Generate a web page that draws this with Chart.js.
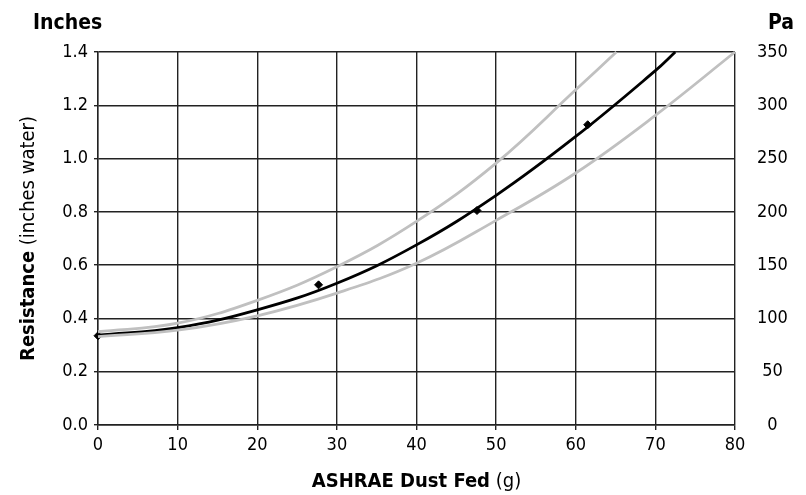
<!DOCTYPE html>
<html>
<head>
<meta charset="utf-8">
<script src="https://cdn.jsdelivr.net/npm/chart.js@4"></script>
<style>
  html, body { margin: 0; padding: 0; background: #fff; }
  #wrap { width: 806px; height: 495px; }
</style>
</head>
<body>
<div id="wrap"><canvas id="chart" width="806" height="495"></canvas></div>
<script>
// values (dust fed in g, resistance in inches water)
const midX   = [0, 10, 20, 30, 40, 50, 60, 70, 72.5];
const midY   = [0.337, 0.365, 0.432, 0.532, 0.676, 0.862, 1.083, 1.330, 1.4];
const upperX = [0, 10, 20, 30, 40, 50, 60, 65.1];
const upperY = [0.350, 0.382, 0.468, 0.594, 0.764, 0.983, 1.258, 1.4];
const lowerX = [0, 10, 20, 30, 40, 50, 60, 70, 80];
const lowerY = [0.332, 0.356, 0.410, 0.495, 0.607, 0.768, 0.946, 1.162, 1.4];
const testX  = [0, 27.7, 47.6, 61.5];
const testY  = [0.335, 0.526, 0.805, 1.127];

const FONT = "'Liberation Sans Narrow', 'DejaVu Sans Condensed', 'Arial Narrow', sans-serif";

function pts(xs, ys) {
  return xs.map((x, i) => ({ x: x, y: ys[i] }));
}

// titles with a bold part and a normal part
const titles = {
  id: 'titles',
  afterDraw: (chart) => {
    const ctx = chart.ctx;
    const a = chart.chartArea;
    ctx.save();
    ctx.fillStyle = '#000';
    ctx.textBaseline = 'alphabetic';

    ctx.font = 'bold 21px ' + FONT;
    ctx.textAlign = 'left';
    ctx.fillText('Inches', 33, 29);
    ctx.fillText('Pa', 768, 29);

    // x title
    const xb = 'ASHRAE Dust Fed', xn = ' (g)';
    ctx.font = 'bold 20px ' + FONT;
    const wb = ctx.measureText(xb).width;
    ctx.font = '20px ' + FONT;
    const wn = ctx.measureText(xn).width;
    let sx = (a.left + a.right) / 2 - (wb + wn) / 2;
    ctx.font = 'bold 20px ' + FONT;
    ctx.fillText(xb, sx, 487);
    ctx.font = '20px ' + FONT;
    ctx.fillText(xn, sx + wb, 487);

    // y title, rotated
    const yb = 'Resistance', yn = ' (inches water)';
    ctx.translate(34, (a.top + a.bottom) / 2);
    ctx.rotate(-Math.PI / 2);
    ctx.font = 'bold 20px ' + FONT;
    const hb = ctx.measureText(yb).width;
    ctx.font = '20px ' + FONT;
    const hn = ctx.measureText(yn).width;
    sx = -(hb + hn) / 2;
    ctx.font = 'bold 20px ' + FONT;
    ctx.fillText(yb, sx, 0);
    ctx.font = '20px ' + FONT;
    ctx.fillText(yn, sx + hb, 0);
    ctx.restore();
  }
};

const ctx = document.getElementById('chart').getContext('2d');
const chart = new Chart(ctx, {
  type: 'line',
  data: {
    datasets: [
      {
        data: pts(upperX, upperY),
        borderColor: '#c0c0c0', borderWidth: 2.8,
        pointRadius: 0, tension: 0.4, yAxisID: 'y'
      },
      {
        data: pts(lowerX, lowerY),
        borderColor: '#c0c0c0', borderWidth: 2.8,
        pointRadius: 0, tension: 0.4, yAxisID: 'y'
      },
      {
        data: pts(midX, midY),
        borderColor: '#000', borderWidth: 2.8,
        pointRadius: 0, tension: 0.4, yAxisID: 'y'
      },
      {
        data: pts(testX, testY),
        showLine: false,
        pointStyle: 'rectRot', pointRadius: 4,
        pointBackgroundColor: '#000', pointBorderColor: '#000', pointBorderWidth: 1,
        yAxisID: 'y'
      }
    ]
  },
  options: {
    responsive: false,
    animation: false,
    clip: false,
    layout: { padding: { top: 52, left: 0, right: 0, bottom: 0 } },
    plugins: { legend: { display: false }, tooltip: { enabled: false } },
    scales: {
      x: {
        type: 'linear', min: 0, max: 80,
        ticks: { stepSize: 10, color: '#000', padding: 5, font: { family: FONT, size: 18 } },
        grid: { color: '#222', lineWidth: 1.4, tickLength: 5 },
        border: { color: '#222', width: 1.4 },
        afterFit: (s) => { s.height = 70; }
      },
      y: {
        position: 'left', min: 0, max: 1.4,
        ticks: {
          stepSize: 0.2, color: '#000', padding: 6, font: { family: FONT, size: 18 },
          callback: (v) => v.toFixed(1)
        },
        grid: { color: '#222', lineWidth: 1.4, tickLength: 4 },
        border: { color: '#222', width: 1.4 },
        afterFit: (s) => { s.width = 98; }
      },
      y2: {
        position: 'right', min: 0, max: 350,
        ticks: { stepSize: 50, color: '#000', padding: 22, crossAlign: 'center', font: { family: FONT, size: 18 } },
        grid: { display: false, drawTicks: false },
        border: { display: false },
        afterFit: (s) => { s.width = 71; }
      }
    }
  },
  plugins: [titles]
});
</script>
</body>
</html>
